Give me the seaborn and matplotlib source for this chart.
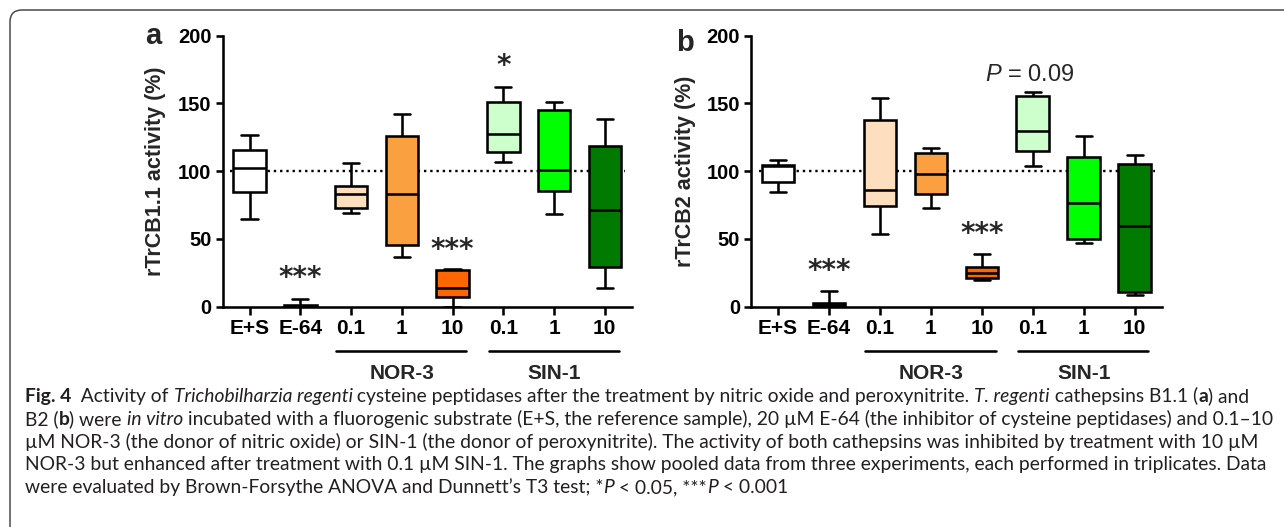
import numpy as np
import pandas as pd
import matplotlib
matplotlib.use("Agg")
import matplotlib.pyplot as plt
import seaborn as sns
from matplotlib.patches import FancyBboxPatch
from matplotlib.transforms import IdentityTransform, blended_transform_factory

# ---------------- data ----------------
categories = ["E+S", "E-64", "NOR-3 0.1", "NOR-3 1", "NOR-3 10", "SIN-1 0.1", "SIN-1 1", "SIN-1 10"]
tick_labels = ["E+S", "E-64", "0.1", "1", "10", "0.1", "1", "10"]
box_colors = ["#FFFFFF", "#7F7F7F", "#FDDFC0", "#FBA040", "#FF6600", "#CCFFCC", "#00FF00", "#007A00"]

# five-number summaries (min, Q1, median, Q3, max) per group, panel a (rTrCB1.1)
cb11_min = [64.7, 0.0, 69.1, 36.9, 0.0, 106.5, 68.6, 13.5]
cb11_q1 = [84.4, 0.2, 72.6, 45.3, 7.4, 114.4, 85.6, 29.3]
cb11_med = [102.6, 0.7, 82.9, 83.4, 13.5, 127.2, 100.6, 71.3]
cb11_q3 = [115.4, 1.5, 89.0, 126.2, 26.8, 151.0, 145.4, 118.3]
cb11_max = [126.4, 5.9, 106.0, 142.0, 27.8, 162.4, 151.0, 138.3]

# panel b (rTrCB2)
cb2_min = [84.6, 0.0, 53.4, 72.6, 19.7, 104.1, 46.7, 8.4]
cb2_q1 = [91.8, 0.3, 74.5, 83.1, 21.4, 114.9, 49.9, 11.1]
cb2_med = [103.6, 1.2, 86.1, 97.9, 24.6, 129.6, 76.8, 59.8]
cb2_q3 = [104.8, 3.0, 137.5, 113.2, 29.3, 155.2, 110.5, 105.3]
cb2_max = [108.5, 11.3, 154.2, 117.3, 38.9, 158.2, 125.7, 111.7]

# significance annotations: (group index, label, y value)
sig_a = [(1, "***", 21.0), (4, "***", 42.0), (5, "*", 178.0)]
sig_b = [(1, "***", 26.0), (4, "***", 54.0)]
pval_b = (5, "0.09", 171.0)

ylabel_a = "rTrCB1.1 activity (%)"
ylabel_b = "rTrCB2 activity (%)"
groups = [("NOR-3", 2, 4), ("SIN-1", 5, 7)]

caption_lines = [
    [("Fig. 4", "b"), ("  Activity of ", "n"), ("Trichobilharzia regenti", "i"),
     (" cysteine peptidases after the treatment by nitric oxide and peroxynitrite. ", "n"),
     ("T. regenti", "i"), (" cathepsins B1.1 (", "n"), ("a", "b"), (") and", "n")],
    [("B2 (", "n"), ("b", "b"), (") were ", "n"), ("in vitro", "i"),
     (" incubated with a fluorogenic substrate (E+S, the reference sample), 20 \u00b5M E-64 (the inhibitor of cysteine peptidases) and 0.1\u201310", "n")],
    [("\u00b5M NOR-3 (the donor of nitric oxide) or SIN-1 (the donor of peroxynitrite). The activity of both cathepsins was inhibited by treatment with 10 \u00b5M", "n")],
    [("NOR-3 but enhanced after treatment with 0.1 \u00b5M SIN-1. The graphs show pooled data from three experiments, each performed in triplicates. Data", "n")],
    [("were evaluated by Brown-Forsythe ANOVA and Dunnett\u2019s T3 test; *", "n"), ("P", "i"),
     (" < 0.05, ***", "n"), ("P", "i"), (" < 0.001", "n")],
]

# ---------------- style ----------------
sns.set_style("ticks")
plt.rcParams["font.family"] = ["Liberation Sans", "DejaVu Sans"]
plt.rcParams["mathtext.fontset"] = "custom"
plt.rcParams["mathtext.it"] = "Liberation Sans:italic"
plt.rcParams["mathtext.rm"] = "Liberation Sans"

W, H = 1284, 527
fig = plt.figure(figsize=(W / 100, H / 100), dpi=100)
fig.patch.set_facecolor("white")

LW = 1.85


def make_df(mins, q1s, meds, q3s, maxs):
    rows = []
    for c, a, b, m, d, e in zip(categories, mins, q1s, meds, q3s, maxs):
        for v in (a, b, m, d, e):
            rows.append({"group": c, "value": v})
    return pd.DataFrame(rows)


def draw_panel(ax, df, ylabel, sigs, letter, letter_xy, ylabel_x):
    ax.plot([-0.38, 7.4], [100, 100], ls=":", color="black", lw=1.7, zorder=0.5)
    sns.boxplot(data=df, x="group", y="value", order=categories, hue="group",
                hue_order=categories, palette=box_colors, legend=False,
                whis=(0, 100), width=0.64, linewidth=LW, linecolor="black",
                fliersize=0, saturation=1, ax=ax)
    ax.set_xlim(-0.53, 7.53)
    ax.set_ylim(0, 200)
    ax.set_yticks([0, 50, 100, 150, 200])
    ax.set_xticks(range(len(categories)))
    ax.set_xticklabels(tick_labels, fontsize=15, fontweight="bold")
    for lab in ax.get_yticklabels():
        lab.set_fontsize(14.5)
        lab.set_fontweight("bold")
    ax.set_xlabel("")
    ax.set_ylabel("")
    sns.despine(ax=ax)
    for s in ("left", "bottom"):
        ax.spines[s].set_linewidth(LW)
        ax.spines[s].set_color("black")
    ax.tick_params(axis="y", length=5, width=LW, pad=3, colors="black")
    ax.tick_params(axis="x", length=5.5, width=LW, pad=3, colors="black")
    ax.text(ylabel_x, 0.5, ylabel, transform=ax.transAxes, rotation=90,
            ha="center", va="center", fontsize=15.5, fontweight="bold")
    for gi, lab, yv in sigs:
        ax.text(gi, yv, lab, ha="center", va="center", fontsize=20,
                fontweight="bold", family="DejaVu Sans")
    tr = blended_transform_factory(ax.transData, ax.transAxes)
    for name, i0, i1 in groups:
        ax.plot([i0 - 0.29, i1 + 0.27], [-0.162, -0.162], color="black", lw=LW,
                transform=tr, clip_on=False)
        ax.text((i0 + i1) / 2, -0.2457, name, transform=tr, ha="center", va="center",
                fontsize=15, fontweight="bold")
    fig.text(letter_xy[0] / W, 1 - letter_xy[1] / H, letter, ha="center",
             va="baseline", fontsize=21, fontweight="bold")


bottom = 1 - 306.7 / H
height = 271 / H
ax_a = fig.add_axes([222.7 / W, bottom, 409 / W, height])
ax_b = fig.add_axes([751 / W, bottom, 410.7 / W, height])

df_a = make_df(cb11_min, cb11_q1, cb11_med, cb11_q3, cb11_max)
df_b = make_df(cb2_min, cb2_q1, cb2_med, cb2_q3, cb2_max)

draw_panel(ax_a, df_a, ylabel_a, sig_a, "a", (153.7, 44.5), (155 - 222.7) / 409)
draw_panel(ax_b, df_b, ylabel_b, sig_b, "b", (685, 51), (685 - 751) / 410.7)
ax_b.text(pval_b[0] - 0.05, pval_b[2], r"$\mathit{P}$ = " + pval_b[1], ha="center",
          va="center", fontsize=17)

# ---------------- border ----------------
border = FancyBboxPatch((10, -40), 1400, H - 10 + 40,
                        boxstyle="round,pad=0,rounding_size=12",
                        transform=IdentityTransform(), fill=False,
                        edgecolor="#4a4a4a", lw=1.1)
fig.add_artist(border)

# ---------------- caption ----------------
renderer = fig.canvas.get_renderer()
cap_family = ["Lato", "DejaVu Sans"]
cap_color = "#231f20"


def seg_kw(style, size):
    kw = dict(fontsize=size, family=cap_family, color=cap_color,
              transform=IdentityTransform(), va="baseline", ha="left")
    if style == "i":
        kw["style"] = "italic"
    if style == "b":
        kw["weight"] = "bold"
    return kw


def measure(text, style, size):
    t1 = fig.text(0, 0, text + "|", **seg_kw(style, size))
    t2 = fig.text(0, 0, "|", **seg_kw(style, size))
    w = t1.get_window_extent(renderer).width - t2.get_window_extent(renderer).width
    t1.remove()
    t2.remove()
    return w


def line_width(segs, size):
    return sum(measure(t, s, size) for t, s in segs)


base = 11.0
scale = 1247.0 / line_width(caption_lines[1], base)
cap_size = base * scale

baselines = [402, 425, 448, 470, 493]
for segs, yb in zip(caption_lines, baselines):
    x = 25.0
    for text, style in segs:
        fig.text(x, H - yb, text, **seg_kw(style, cap_size))
        x += measure(text, style, cap_size)

fig.savefig("out.png", dpi=100, facecolor="white")
